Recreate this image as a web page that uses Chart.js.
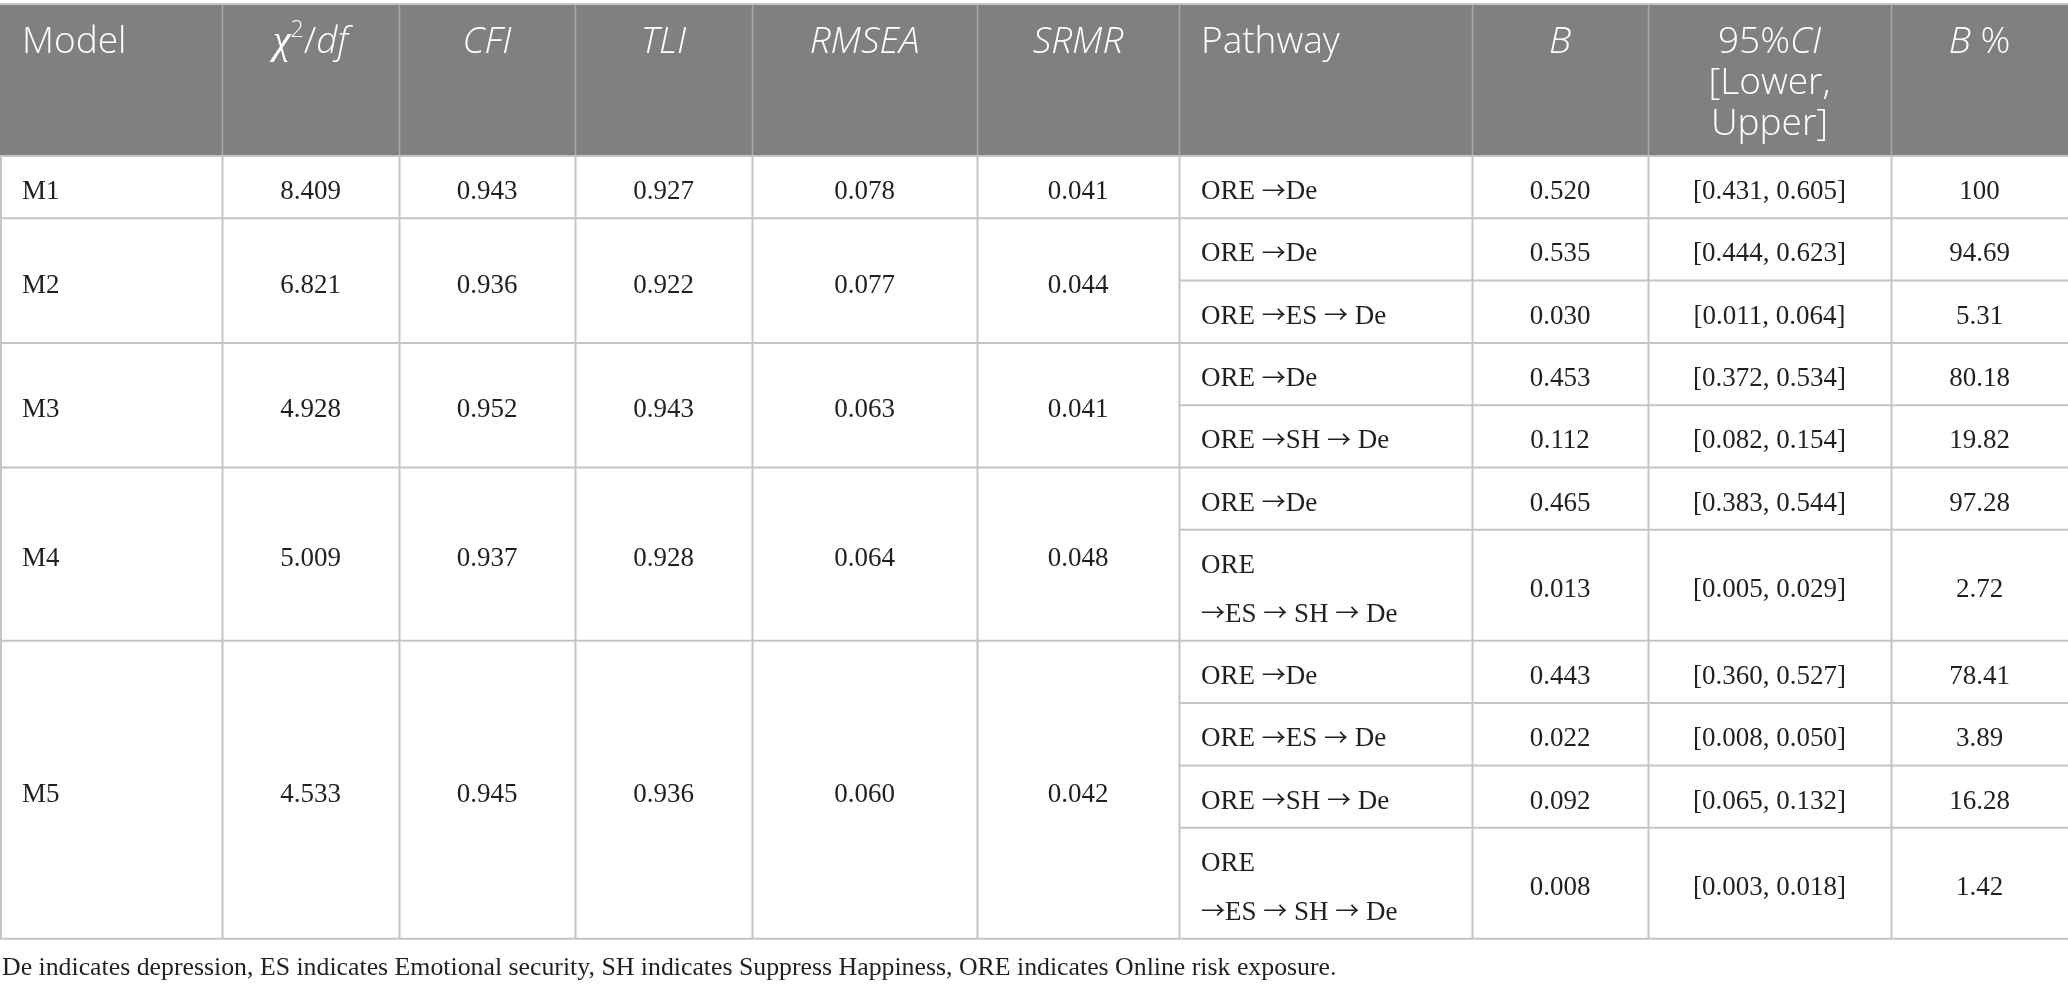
<!DOCTYPE html>
<html>
<head>
<meta charset="utf-8">
<script src="https://cdn.jsdelivr.net/npm/chart.js@4.4.1/dist/chart.umd.min.js"></script>
<style>
  html, body { margin: 0; padding: 0; background: #ffffff; }
  #wrap { width: 2068px; height: 990px; }
  canvas { display: block; }
</style>
</head>
<body>
<div id="wrap"><canvas id="c" width="2068" height="990"></canvas></div>
<script>
// ---------- DATA ----------
const models = ['M1', 'M2', 'M3', 'M4', 'M5'];
const chi2df = ['8.409', '6.821', '4.928', '5.009', '4.533'];
const cfi    = ['0.943', '0.936', '0.952', '0.937', '0.945'];
const tli    = ['0.927', '0.922', '0.943', '0.928', '0.936'];
const rmsea  = ['0.078', '0.077', '0.063', '0.064', '0.060'];
const srmr   = ['0.041', '0.044', '0.041', '0.048', '0.042'];
const pathways = [
  [['ORE →De']],
  [['ORE →De'], ['ORE →ES → De']],
  [['ORE →De'], ['ORE →SH → De']],
  [['ORE →De'], ['ORE', '→ES → SH → De']],
  [['ORE →De'], ['ORE →ES → De'], ['ORE →SH → De'], ['ORE', '→ES → SH → De']]
];
const bValues  = [[0.520], [0.535, 0.030], [0.453, 0.112], [0.465, 0.013], [0.443, 0.022, 0.092, 0.008]];
const ciLower  = [[0.431], [0.444, 0.011], [0.372, 0.082], [0.383, 0.005], [0.360, 0.008, 0.065, 0.003]];
const ciUpper  = [[0.605], [0.623, 0.064], [0.534, 0.154], [0.544, 0.029], [0.527, 0.050, 0.132, 0.018]];
const bPercent = [['100'], ['94.69', '5.31'], ['80.18', '19.82'], ['97.28', '2.72'], ['78.41', '3.89', '16.28', '1.42']];

// header labels: segments [text, style] ; n = normal, i = italic, sup = superscript, g = greek italic
const headerLabels = [
  [[['Model', 'n']]],
  [[['χ', 'g'], ['2', 'sup'], ['/', 'n'], ['df', 'i']]],
  [[['CFI', 'i']]],
  [[['TLI', 'i']]],
  [[['RMSEA', 'i']]],
  [[['SRMR', 'i']]],
  [[['Pathway', 'n']]],
  [[['B', 'i']]],
  [[['95%', 'n'], ['CI', 'i']], [['[Lower,', 'n']], [['Upper]', 'n']]],
  [[['B', 'i'], [' %', 'n']]]
];
const headerAlign = ['left', 'center', 'center', 'center', 'center', 'center', 'left', 'center', 'center', 'center'];
const footnote = 'De indicates depression, ES indicates Emotional security, SH indicates Suppress Happiness, ORE indicates Online risk exposure.';

// ---------- LAYOUT (scale units) ----------
const colEdges = [0, 222, 399, 575, 752, 977, 1179, 1472, 1648, 1891, 2068];
const headerTop = 4, headerBottom = 156;
const singleRowH = 62.3, doubleRowH = 111;
const HEAD_FONT = '"Open Sans", "Noto Sans", sans-serif';
const BODY_FONT = '"Liberation Serif", "DejaVu Serif", serif';
const ARROW_FONT = '"Noto Sans CJK JP", "DejaVu Sans", sans-serif';

function fmt3(v) { return v.toFixed(3); }

const tablePlugin = {
  id: 'tablePlugin',
  afterDraw(chart) {
    const ctx = chart.ctx;
    const xs = chart.scales.x, ys = chart.scales.y;
    const X = v => xs.getPixelForValue(v);
    const Y = v => ys.getPixelForValue(v);

    // ----- header background -----
    ctx.save();
    ctx.fillStyle = '#80807f';
    ctx.fillRect(X(colEdges[0]), Y(headerTop), X(colEdges[colEdges.length - 1]) - X(colEdges[0]), Y(headerBottom) - Y(headerTop));

    ctx.strokeStyle = '#a8a8a8';
    ctx.lineWidth = 1.5;
    for (let c = 1; c < colEdges.length - 1; c++) {
      ctx.beginPath();
      ctx.moveTo(X(colEdges[c]) + 0.5, Y(headerTop));
      ctx.lineTo(X(colEdges[c]) + 0.5, Y(headerBottom));
      ctx.stroke();
    }

    function segFont(style) {
      if (style === 'i') return 'italic 300 37px ' + HEAD_FONT;
      if (style === 'g') return 'italic 40px ' + BODY_FONT;
      if (style === 'sup') return '300 23px ' + HEAD_FONT;
      return '300 37px ' + HEAD_FONT;
    }
    ctx.fillStyle = '#ffffff';
    ctx.textBaseline = 'alphabetic';
    ctx.textAlign = 'left';
    headerLabels.forEach((lines, c) => {
      const x0 = X(colEdges[c]), x1 = X(colEdges[c + 1]);
      lines.forEach((segs, li) => {
        let w = 0;
        segs.forEach(s => { ctx.font = segFont(s[1]); w += ctx.measureText(s[0]).width; });
        let x = headerAlign[c] === 'left' ? x0 + 22 : (x0 + x1) / 2 - w / 2;
        const base = Y(headerTop) + 49 + li * 41;
        segs.forEach(s => {
          ctx.font = segFont(s[1]);
          const dy = s[1] === 'sup' ? -16 : 0;
          ctx.fillText(s[0], x, base + dy);
          x += ctx.measureText(s[0]).width;
        });
      });
    });

    // ----- body rows -----
    ctx.strokeStyle = '#c4c4c4';
    ctx.lineWidth = 2;
    const line = (xa, ya, xb, yb) => { ctx.beginPath(); ctx.moveTo(xa, ya); ctx.lineTo(xb, yb); ctx.stroke(); };

    line(X(colEdges[0]), Y(headerTop), X(colEdges[10]), Y(headerTop));
    line(X(colEdges[0]), Y(headerBottom), X(colEdges[10]), Y(headerBottom));

    const BODY = '27px ' + BODY_FONT;
    const ARROW = '24px ' + ARROW_FONT;
    ctx.fillStyle = '#231f20';
    const BASE_OFF = 12;

    function richWidth(s) {
      let w = 0;
      s.split(/(→)/).forEach(p => { if (!p) return; ctx.font = p === '→' ? ARROW : BODY; w += ctx.measureText(p).width; });
      return w;
    }
    function richDraw(s, x, y) {
      ctx.textAlign = 'left';
      s.split(/(→)/).forEach(p => {
        if (!p) return;
        ctx.font = p === '→' ? ARROW : BODY;
        ctx.fillText(p, x, p === '→' ? y - 0.5 : y);
        x += ctx.measureText(p).width;
      });
    }
    const txt = (s, c, yc, align) => {
      if (align === 'left') richDraw(s, X(colEdges[c]) + 22, yc);
      else richDraw(s, (X(colEdges[c]) + X(colEdges[c + 1])) / 2 - richWidth(s) / 2, yc);
    };

    let yTop = headerBottom;
    models.forEach((m, mi) => {
      const groupTop = yTop;
      const subTops = [];
      pathways[mi].forEach(p => {
        const h = p.length > 1 ? doubleRowH : singleRowH;
        subTops.push([yTop, yTop + h]);
        yTop += h;
      });
      const groupBottom = yTop;
      const gc = (Y(groupTop) + Y(groupBottom)) / 2 + BASE_OFF;
      txt(m, 0, gc, 'left');
      txt(chi2df[mi], 1, gc);
      txt(cfi[mi], 2, gc);
      txt(tli[mi], 3, gc);
      txt(rmsea[mi], 4, gc);
      txt(srmr[mi], 5, gc);
      subTops.forEach((r, si) => {
        const yc = (Y(r[0]) + Y(r[1])) / 2 + BASE_OFF;
        const p = pathways[mi][si];
        if (p.length === 1) txt(p[0], 6, yc, 'left');
        else { txt(p[0], 6, yc - 24.5, 'left'); txt(p[1], 6, yc + 24.5, 'left'); }
        txt(fmt3(bValues[mi][si]), 7, yc);
        txt('[' + fmt3(ciLower[mi][si]) + ', ' + fmt3(ciUpper[mi][si]) + ']', 8, yc);
        txt(bPercent[mi][si], 9, yc);
        if (si < subTops.length - 1) line(X(colEdges[6]), Y(r[1]), X(colEdges[10]), Y(r[1]));
      });
      line(X(colEdges[0]), Y(groupBottom), X(colEdges[10]), Y(groupBottom));
      for (let c = 0; c < colEdges.length - 1; c++) {
        const xv = c === 0 ? X(colEdges[0]) + 1 : X(colEdges[c]) + 0.5;
        line(xv, Y(groupTop), xv, Y(groupBottom));
      }
    });

    ctx.textAlign = 'left';
    ctx.font = '25.8px ' + BODY_FONT;
    ctx.fillText(footnote, X(colEdges[0]) + 2, Y(yTop) + 36);
    ctx.restore();
  }
};

new Chart(document.getElementById('c'), {
  type: 'scatter',
  data: { datasets: [] },
  options: {
    responsive: false,
    devicePixelRatio: 1,
    animation: false,
    layout: { padding: 0 },
    plugins: { legend: { display: false }, tooltip: { enabled: false }, title: { display: false } },
    scales: {
      x: { type: 'linear', min: 0, max: 2068, display: false },
      y: { type: 'linear', min: 0, max: 990, reverse: true, display: false }
    }
  },
  plugins: [tablePlugin]
});
</script>
</body>
</html>
